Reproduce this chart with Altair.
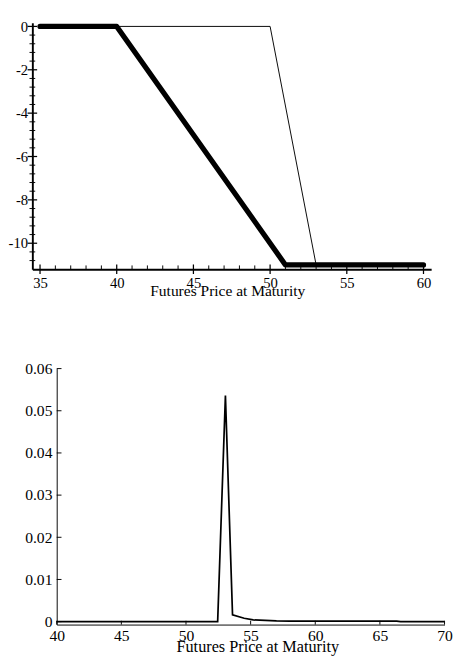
import altair as alt
import pandas as pd

# ---------------- data ----------------
# top panel: payoff lines
thick_x = [35, 40, 51, 60]
thick_y = [0, 0, -11, -11]
thin_x = [35, 40, 50, 53, 60]
thin_y = [0, 0, 0, -11, -11]
top_x_major = [35, 40, 45, 50, 55, 60]
top_x_minor = [36, 37, 38, 39, 41, 42, 43, 44, 46, 47, 48, 49, 51, 52, 53, 54, 56, 57, 58, 59]
top_y_major = [0, -2, -4, -6, -8, -10]
top_y_minor = [-0.4, -0.8, -1.2, -1.6, -2.4, -2.8, -3.2, -3.6, -4.4, -4.8, -5.2, -5.6,
               -6.4, -6.8, -7.2, -7.6, -8.4, -8.8, -9.2, -9.6, -10.4, -10.8]

# bottom panel: density of futures price at maturity
dens_x = [40, 52.45, 53.05, 53.6, 54.5, 55.2, 57.0, 58.0, 66.3, 66.6, 70]
dens_y = [0, 0, 0.0536, 0.0016, 0.0008, 0.0004, 0.00016, 0.0001, 0.0001, 0, 0]
bot_x_ticks = [40, 45, 50, 55, 60, 65, 70]
bot_y_ticks = [0, 0.01, 0.02, 0.03, 0.04, 0.05, 0.06]

X_TITLE = "Futures Price at Maturity"
FONT = "Liberation Serif"

# ---------------- top chart ----------------
SHIFT = 25.5                    # top panel sits further left than the bottom one
TOP_W, TOP_H = 392, 258
txs = alt.Scale(domain=[34.5, 60.5], nice=False, zero=False, range=[-SHIFT, TOP_W])
tys = alt.Scale(domain=[-11.2, 0.167], nice=False, zero=False)

thin_df = pd.DataFrame({"x": thin_x, "y": thin_y})
thick_df = pd.DataFrame({"x": thick_x, "y": thick_y})

top_xaxis = alt.Axis(values=top_x_major, ticks=False, tickSize=0, grid=False, labelFlush=False,
                     labelPadding=7, labelFont=FONT, labelFontSize=15.3, labelColor="black",
                     labelExpr="toString(datum.value)",
                     domainColor="black", domainWidth=2,
                     title=X_TITLE, titleFont=FONT, titleFontSize=16.2, titleFontWeight="normal",
                     titleColor="black", titleY=22, titleX=178.6, titleAlign="center",
                     titleBaseline="middle")
top_yaxis = alt.Axis(values=top_y_major, ticks=False, tickSize=0, grid=False, offset=SHIFT,
                     labelFlush=False,
                     labelPadding=5, labelFont=FONT, labelFontSize=15.3, labelColor="black",
                     labelExpr="toString(datum.value)",
                     domainColor="black", domainWidth=2, title=None)

thin = alt.Chart(thin_df).mark_line(color="black", strokeWidth=1).encode(
    x=alt.X("x:Q", scale=txs, axis=top_xaxis),
    y=alt.Y("y:Q", scale=tys, axis=top_yaxis),
)
thick = alt.Chart(thick_df).mark_line(color="black", strokeWidth=5.5, strokeCap="round",
                                      strokeJoin="round").encode(
    x=alt.X("x:Q", scale=txs), y=alt.Y("y:Q", scale=tys))

tx_major = alt.Chart(pd.DataFrame({"v": top_x_major})).mark_rule(color="black", strokeWidth=1.3).encode(
    x=alt.X("v:Q", scale=txs), y=alt.value(TOP_H - 5), y2=alt.value(TOP_H + 5))
tx_minor = alt.Chart(pd.DataFrame({"v": top_x_minor})).mark_rule(color="black", strokeWidth=1).encode(
    x=alt.X("v:Q", scale=txs), y=alt.value(TOP_H - 4), y2=alt.value(TOP_H))
ty_major = alt.Chart(pd.DataFrame({"v": top_y_major})).mark_rule(color="black", strokeWidth=1.3).encode(
    y=alt.Y("v:Q", scale=tys), x=alt.value(-SHIFT - 5), x2=alt.value(-SHIFT + 5))
ty_minor = alt.Chart(pd.DataFrame({"v": top_y_minor})).mark_rule(color="black", strokeWidth=1).encode(
    y=alt.Y("v:Q", scale=tys), x=alt.value(-SHIFT - 3), x2=alt.value(-SHIFT + 3))

top = alt.layer(thin, thick, tx_major, tx_minor, ty_major, ty_minor).properties(
    width=TOP_W, height=TOP_H)

# ---------------- bottom chart ----------------
BOT_W, BOT_H = 406, 268
bxs = alt.Scale(domain=[40, 70], nice=False, zero=False)
bys = alt.Scale(domain=[-0.0007, 0.06], nice=False, zero=False)

dens_df = pd.DataFrame({"x": dens_x, "y": dens_y})

bot_xaxis = alt.Axis(values=bot_x_ticks, ticks=False, tickSize=0, grid=False, labelFlush=False,
                     labelPadding=4, labelFont=FONT, labelFontSize=16.3, labelColor="black",
                     labelExpr="toString(datum.value)",
                     domainColor="black", domainWidth=1,
                     title=X_TITLE, titleFont=FONT, titleFontSize=17, titleFontWeight="normal",
                     titleColor="black", titleY=23, titleX=210, titleAlign="center",
                     titleBaseline="middle")
bot_yaxis = alt.Axis(values=bot_y_ticks, ticks=False, tickSize=0, grid=False, labelFlush=False,
                     labelPadding=5, labelFont=FONT, labelFontSize=16.3, labelColor="black",
                     labelExpr="toString(datum.value)", minExtent=51,
                     domainColor="black", domainWidth=1, title=None)

dens = alt.Chart(dens_df).mark_line(color="black", strokeWidth=1.8).encode(
    x=alt.X("x:Q", scale=bxs, axis=bot_xaxis),
    y=alt.Y("y:Q", scale=bys, axis=bot_yaxis),
)
bx_ticks = alt.Chart(pd.DataFrame({"v": bot_x_ticks})).mark_rule(color="black", strokeWidth=1).encode(
    x=alt.X("v:Q", scale=bxs), y=alt.value(BOT_H - 4), y2=alt.value(BOT_H))
by_ticks = alt.Chart(pd.DataFrame({"v": bot_y_ticks})).mark_rule(color="black", strokeWidth=1).encode(
    y=alt.Y("v:Q", scale=bys), x=alt.value(0), x2=alt.value(5))

bottom = alt.layer(dens, bx_ticks, by_ticks).properties(width=BOT_W, height=BOT_H)

chart = alt.vconcat(top, bottom, spacing=65).properties(
    padding={"left": 0, "top": -4, "right": 0, "bottom": 0},
    background="white",
).configure_view(strokeWidth=0)

chart.save("out.html", embed_options={"renderer": "svg", "actions": False})
